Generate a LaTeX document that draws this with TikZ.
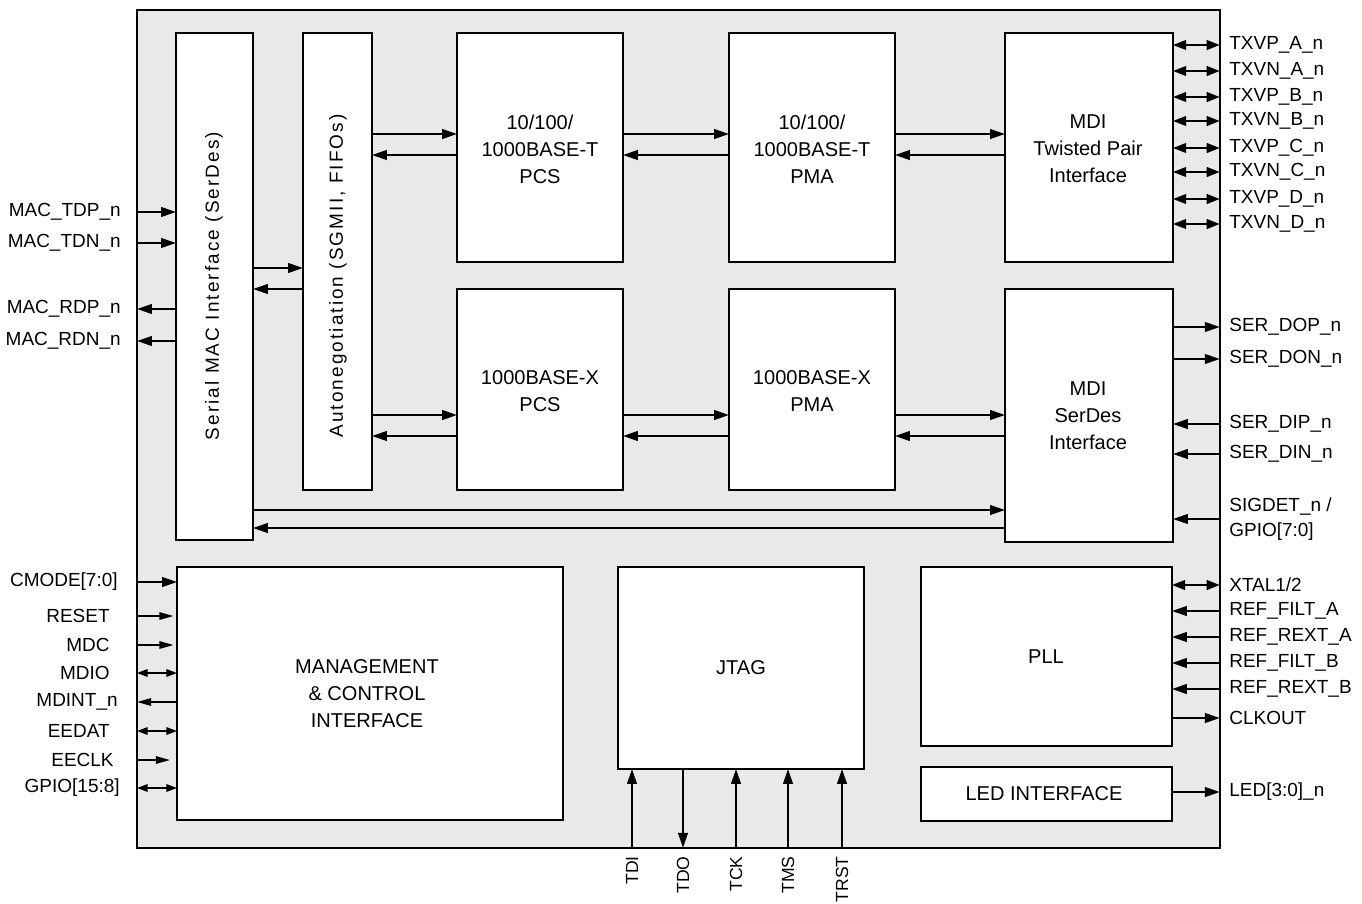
\documentclass[tikz,border=0pt]{standalone}
\usepackage{fontspec}
\setmainfont{Liberation Sans}
\usetikzlibrary{arrows.meta}
\definecolor{chipgray}{RGB}{232,233,235}

\begin{document}
\begin{tikzpicture}[
    x=0.02cm, y=-0.02cm,
    font=\fontsize{10.8}{14.6}\selectfont,
    chipbox/.style={draw, line width=1.1pt, fill=chipgray, anchor=north west,
                inner sep=0pt, outer sep=0pt},
    blk/.style={draw, line width=0.8pt, fill=white, anchor=north west,
                inner sep=0pt, outer sep=0pt},
    txt/.style={align=center, inner sep=0pt, font=\fontsize{11.4}{15.4}\selectfont},
    vtxt/.style={rotate=90, inner sep=0pt,
                font=\fontsize{10.8}{13}\selectfont\addfontfeature{LetterSpace=11}},
    pinl/.style={anchor=east, inner sep=0pt},
    pinr/.style={anchor=west, inner sep=0pt, align=left},
    pinb/.style={anchor=east, rotate=90, inner sep=0pt, font=\fontsize{10}{12}\selectfont},
    arr/.style={-{Triangle[length=8.5pt,width=5.5pt]}, line width=1.2pt},
    darr/.style={{Triangle[length=7.5pt,width=5.5pt]}-{Triangle[length=7.5pt,width=5.5pt]},
                line width=1.2pt},
    sarr/.style={-{Triangle[length=8pt,width=4.2pt]}, line width=1pt},
    sdarr/.style={{Triangle[length=6pt,width=4.2pt]}-{Triangle[length=6pt,width=4.2pt]},
                line width=1pt}
]
\useasboundingbox (0,0) rectangle (1362,903);

%--------
% CHIP OUTLINE AND BLOCKS
%--------
\node[chipbox, minimum width=21.66cm, minimum height=16.76cm] (chip) at (137,10) {};

\node[blk, minimum width=1.54cm, minimum height=10.14cm] (smac) at (176,33) {};
\node[vtxt] at (214,286) {Serial MAC Interface (SerDes)};

\node[blk, minimum width=1.38cm, minimum height=9.14cm] (aneg) at (303,33) {};
\node[vtxt] at (338,276) {Autonegotiation (SGMII, FIFOs)};

\node[blk, minimum width=3.32cm, minimum height=4.58cm] (pcst) at (457,33) {};
\node[txt] at (540,149) {10/100/\\1000BASE-T\\PCS};

\node[blk, minimum width=3.32cm, minimum height=4.58cm] (pmat) at (729,33) {};
\node[txt] at (812,149) {10/100/\\1000BASE-T\\PMA};

\node[blk, minimum width=3.36cm, minimum height=4.58cm] (mditp) at (1005,33) {};
\node[txt] at (1088,149) {MDI\\Twisted Pair\\Interface};

\node[blk, minimum width=3.32cm, minimum height=4.02cm] (pcsx) at (457,289) {};
\node[txt] at (540,391) {1000BASE-X\\PCS};

\node[blk, minimum width=3.32cm, minimum height=4.02cm] (pmax) at (729,289) {};
\node[txt] at (812,391) {1000BASE-X\\PMA};

\node[blk, minimum width=3.36cm, minimum height=5.06cm] (mdisd) at (1005,289) {};
\node[txt] at (1088,416) {MDI\\SerDes\\Interface};

\node[blk, minimum width=7.72cm, minimum height=5.06cm] (mgmt) at (177,567) {};
\node[txt] at (367,694) {MANAGEMENT\\\& CONTROL\\INTERFACE};

\node[blk, minimum width=4.92cm, minimum height=4.04cm] (jtag) at (618,567) {};
\node[txt] at (741,668) {JTAG};

\node[blk, minimum width=5.02cm, minimum height=3.58cm] (pll) at (921,567) {};
\node[txt] at (1046,657) {PLL};

\node[blk, minimum width=5.02cm, minimum height=1.08cm] (led) at (921,767) {};
\node[txt] at (1044,794) {LED INTERFACE};

%--------
% INTERNAL DATA PATHS
%--------
\draw[arr] (smac.east |- 0,268) -- (aneg.west |- 0,268);
\draw[arr] (aneg.west |- 0,289) -- (smac.east |- 0,289);

\draw[arr] (aneg.east |- 0,134) -- (pcst.west |- 0,134);
\draw[arr] (pcst.west |- 0,155) -- (aneg.east |- 0,155);
\draw[arr] (pcst.east |- 0,134) -- (pmat.west |- 0,134);
\draw[arr] (pmat.west |- 0,155) -- (pcst.east |- 0,155);
\draw[arr] (pmat.east |- 0,134) -- (mditp.west |- 0,134);
\draw[arr] (mditp.west |- 0,155) -- (pmat.east |- 0,155);

\draw[arr] (aneg.east |- 0,415) -- (pcsx.west |- 0,415);
\draw[arr] (pcsx.west |- 0,436) -- (aneg.east |- 0,436);
\draw[arr] (pcsx.east |- 0,415) -- (pmax.west |- 0,415);
\draw[arr] (pmax.west |- 0,436) -- (pcsx.east |- 0,436);
\draw[arr] (pmax.east |- 0,415) -- (mdisd.west |- 0,415);
\draw[arr] (mdisd.west |- 0,436) -- (pmax.east |- 0,436);

\draw[arr] (smac.east |- 0,510) -- (mdisd.west |- 0,510);
\draw[arr] (mdisd.west |- 0,528) -- (smac.east |- 0,528);

%--------
% LEFT PINS
%--------
\node[pinl] (tdp) at (121,212) {MAC\_TDP\_n};
\node[pinl] (tdn) at (121,243) {MAC\_TDN\_n};
\node[pinl] (rdp) at (121,309) {MAC\_RDP\_n};
\node[pinl] (rdn) at (121,341) {MAC\_RDN\_n};
\draw[arr] (chip.west |- tdp) -- (smac.west |- tdp);
\draw[arr] (chip.west |- tdn) -- (smac.west |- tdn);
\draw[arr] (smac.west |- rdp) -- (chip.west |- rdp);
\draw[arr] (smac.west |- rdn) -- (chip.west |- rdn);

\node[pinl] (cmode) at (118,582) {CMODE[7:0]};
\node[pinl] (reset) at (110,616) {RESET};
\node[pinl] (mdc)   at (110,645) {MDC};
\node[pinl] (mdio)  at (110,673) {MDIO};
\node[pinl] (mdint) at (118,702) {MDINT\_n};
\node[pinl] (eedat) at (110,731) {EEDAT};
\node[pinl] (eeclk) at (114,760) {EECLK};
\node[pinl] (gpiol) at (120,788) {GPIO[15:8]};
\draw[arr]   (chip.west |- cmode) -- (mgmt.west |- cmode);
\draw[sarr]  (chip.west |- reset) -- ([xshift=-2]mgmt.west |- reset);
\draw[sarr]  (chip.west |- mdc)   -- ([xshift=-2]mgmt.west |- mdc);
\draw[sdarr] (chip.west |- mdio)  -- (mgmt.west |- mdio);
\draw[sarr]  (mgmt.west |- mdint) -- (chip.west |- mdint);
\draw[sdarr] (chip.west |- eedat) -- (mgmt.west |- eedat);
\draw[sarr]  (chip.west |- eeclk) -- ([xshift=-4]mgmt.west |- eeclk);
\draw[sdarr] (chip.west |- gpiol) -- (mgmt.west |- gpiol);

%--------
% RIGHT PINS
%--------
\node[pinr] (txpa) at (1229,45)  {TXVP\_A\_n};
\node[pinr] (txna) at (1229,71)  {TXVN\_A\_n};
\node[pinr] (txpb) at (1229,97)  {TXVP\_B\_n};
\node[pinr] (txnb) at (1229,121) {TXVN\_B\_n};
\node[pinr] (txpc) at (1229,148) {TXVP\_C\_n};
\node[pinr] (txnc) at (1229,172) {TXVN\_C\_n};
\node[pinr] (txpd) at (1229,199) {TXVP\_D\_n};
\node[pinr] (txnd) at (1229,224) {TXVN\_D\_n};
\draw[darr] (mditp.east |- txpa) -- (chip.east |- txpa);
\draw[darr] (mditp.east |- txna) -- (chip.east |- txna);
\draw[darr] (mditp.east |- txpb) -- (chip.east |- txpb);
\draw[darr] (mditp.east |- txnb) -- (chip.east |- txnb);
\draw[darr] (mditp.east |- txpc) -- (chip.east |- txpc);
\draw[darr] (mditp.east |- txnc) -- (chip.east |- txnc);
\draw[darr] (mditp.east |- txpd) -- (chip.east |- txpd);
\draw[darr] (mditp.east |- txnd) -- (chip.east |- txnd);

\node[pinr] (sdop) at (1229,327) {SER\_DOP\_n};
\node[pinr] (sdon) at (1229,359) {SER\_DON\_n};
\node[pinr] (sdip) at (1229,424) {SER\_DIP\_n};
\node[pinr] (sdin) at (1229,454) {SER\_DIN\_n};
\node[pinr] (sigdet) at (1229,519) {SIGDET\_n /\\GPIO[7:0]};
\draw[arr] (mdisd.east |- sdop) -- (chip.east |- sdop);
\draw[arr] (mdisd.east |- sdon) -- (chip.east |- sdon);
\draw[arr] (chip.east |- sdip) -- (mdisd.east |- sdip);
\draw[arr] (chip.east |- sdin) -- (mdisd.east |- sdin);
\draw[arr] (chip.east |- sigdet) -- (mdisd.east |- sigdet);

\node[pinr] (xtal)  at (1229,585) {XTAL1/2};
\node[pinr] (rfa)   at (1229,611) {REF\_FILT\_A};
\node[pinr] (rra)   at (1229,637) {REF\_REXT\_A};
\node[pinr] (rfb)   at (1229,663) {REF\_FILT\_B};
\node[pinr] (rrb)   at (1229,689) {REF\_REXT\_B};
\node[pinr] (clko)  at (1229,718) {CLKOUT};
\node[pinr] (ledo)  at (1229,792) {LED[3:0]\_n};
\draw[darr] (pll.east |- xtal) -- (chip.east |- xtal);
\draw[arr] (chip.east |- rfa) -- (pll.east |- rfa);
\draw[arr] (chip.east |- rra) -- (pll.east |- rra);
\draw[arr] (chip.east |- rfb) -- (pll.east |- rfb);
\draw[arr] (chip.east |- rrb) -- (pll.east |- rrb);
\draw[arr] (pll.east |- clko) -- (chip.east |- clko);
\draw[arr] (led.east |- ledo) -- (chip.east |- ledo);

%--------
% JTAG PINS (bottom)
%--------
\node[pinb] (tdi)  at (632,856) {TDI};
\node[pinb] (tdo)  at (683,856) {TDO};
\node[pinb] (tck)  at (736,856) {TCK};
\node[pinb] (tms)  at (788,856) {TMS};
\node[pinb] (trst) at (842,856) {TRST};
\draw[arr] (chip.south -| tdi)  -- (jtag.south -| tdi);
\draw[arr] (jtag.south -| tdo)  -- (chip.south -| tdo);
\draw[arr] (chip.south -| tck)  -- (jtag.south -| tck);
\draw[arr] (chip.south -| tms)  -- (jtag.south -| tms);
\draw[arr] (chip.south -| trst) -- (jtag.south -| trst);

\end{tikzpicture}
\end{document}
